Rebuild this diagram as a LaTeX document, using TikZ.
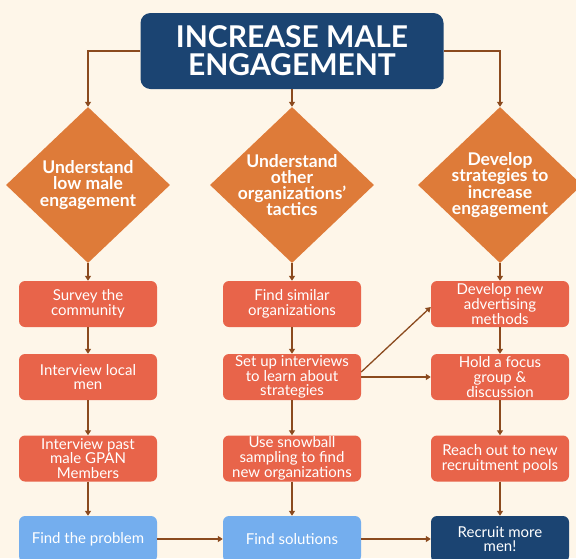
\documentclass[tikz,border=0pt]{standalone}
\usepackage{fontspec}
\setmainfont{Lato}
\usetikzlibrary{arrows.meta,shapes.geometric}
\definecolor{cream}{HTML}{FEF6E9}
\definecolor{navy}{HTML}{1B4472}
\definecolor{rust}{HTML}{E8644A}
\definecolor{amber}{HTML}{DE7B39}
\definecolor{sky}{HTML}{74AEEE}
\definecolor{bark}{HTML}{8B4A1E}
\tikzset{
	stepbox/.style={rectangle, rounded corners=6pt, fill=rust, minimum width=138pt, minimum height=46pt, text=white, align=center, inner sep=0pt, font=\fontsize{15}{14.8}\selectfont},
	endbox/.style={stepbox, fill=sky},
	goalbox/.style={stepbox, fill=navy},
	diam/.style={diamond, fill=amber, minimum width=164pt, minimum height=156pt, inner sep=0pt},
	diamtext/.style={text=white, align=center, font=\fontsize{17.5}{16.2}\selectfont\bfseries},
	link/.style={draw=bark, line width=1.3pt, -{Triangle[length=5pt,width=6pt]}}
}
\begin{document}
\begin{tikzpicture}[x=1pt, y=-1pt]
	\fill[cream] (0,0) rectangle (576,558);
	\useasboundingbox (0,0) rectangle (576,558);
	\clip (0,0) rectangle (576,558);
	\node[goalbox, minimum width=303pt, minimum height=76pt, rounded corners=10pt, font=\fontsize{30}{28}\selectfont\bfseries] (goal) at (292,51) {INCREASE MALE\\ENGAGEMENT};
	\node[diam] (und) at (88,185) {};
	\node[diam] (oth) at (292,185) {};
	\node[diam] (dev) at (500,185) {};
	\node[diamtext] (undtxt) at (und) {Understand\\low male\\engagement};
	\node[diamtext] (othtxt) at (oth) {Understand\\other\\organizations'\\tactics};
	\node[diamtext] (devtxt) at (dev) {Develop\\strategies to\\increase\\engagement};
	\node[stepbox] (survey) at (88,304) {Survey the\\community};
	\node[stepbox] (local) at (88,377) {Interview local\\men};
	\node[stepbox] (past) at (88,458.5) {Interview past\\male GPAN\\Members};
	\node[endbox] (problem) at (88,539) {Find the problem};
	\node[stepbox] (similar) at (292,304) {Find similar\\organizations};
	\node[stepbox] (setup) at (292,377) {Set up interviews\\to learn about\\strategies};
	\node[stepbox] (snow) at (292,458.5) {Use snowball\\sampling to find\\new organizations};
	\node[endbox] (solutions) at (292,539) {Find solutions};
	\node[stepbox] (advert) at (500,304) {Develop new\\advertising\\methods};
	\node[stepbox] (focus) at (500,377) {Hold a focus\\group \&\\discussion};
	\node[stepbox] (reach) at (500,458.5) {Reach out to new\\recruitment pools};
	\node[goalbox] (recruit) at (500,539) {Recruit more\\men!};
	\draw[link] (goal.west) -| (und.north);
	\draw[link] (goal.south) -- (oth.north);
	\draw[link] (goal.east) -| (dev.north);
	\draw[link] (und.south) -- (survey.north);
	\draw[link] (survey) -- (local);
	\draw[link] (local) -- (past);
	\draw[link] (past) -- (problem);
	\draw[link] (oth.south) -- (similar.north);
	\draw[link] (similar) -- (setup);
	\draw[link] (setup) -- (snow);
	\draw[link] (snow) -- (solutions);
	\draw[link] (dev.south) -- (advert.north);
	\draw[link] (advert) -- (focus);
	\draw[link] (focus) -- (reach);
	\draw[link] (reach) -- (recruit);
	\draw[link] (problem) -- (solutions);
	\draw[link] (solutions) -- (recruit);
	\draw[link] (setup) -- (focus);
	\draw[link] ([yshift=5pt]setup.east) -- ([yshift=-3pt]advert.west);
\end{tikzpicture}
\end{document}
